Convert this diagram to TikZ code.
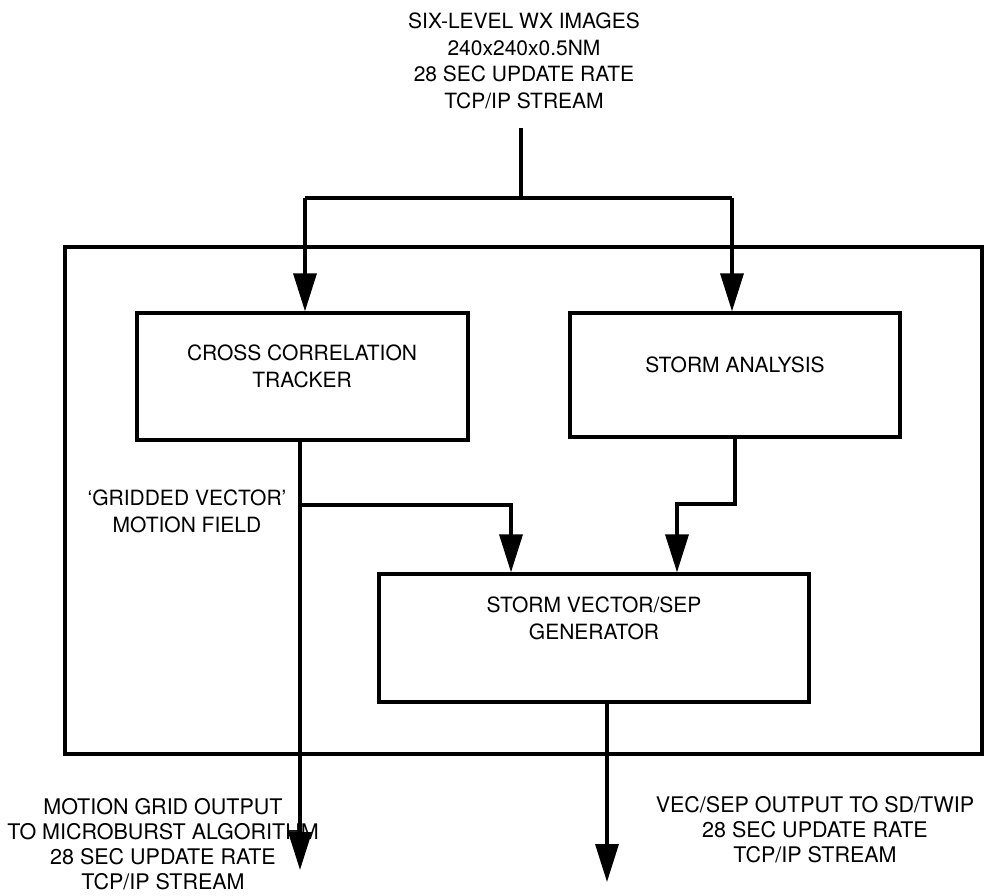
\documentclass[tikz,border=0pt]{standalone}
\usepackage{fontspec}
\setmainfont{TeX Gyre Heros}
\usetikzlibrary{arrows.meta}

\tikzset{
  blockbox/.style={draw=black, line width=3.3pt, rectangle, inner sep=0pt},
  frame/.style={draw=black, line width=3.4pt},
  conn/.style={draw=black, line width=3.4pt, line join=miter},
  flow/.style={conn, -{Triangle[length=38pt,width=23pt]}},
  caption/.style={align=center, inner sep=0pt, font=\fontsize{21}{26.5}\selectfont},
  boxtext/.style={align=center, inner sep=0pt, font=\fontsize{21}{27}\selectfont},
  outtext/.style={align=center, inner sep=0pt, font=\fontsize{21.5}{25}\selectfont},
}

\begin{document}
\begin{tikzpicture}[x=1pt, y=-1pt]
  \useasboundingbox (0,0) rectangle (985,895);

  % input description
  \node[caption] (input) at (524,61)
    {SIX-LEVEL WX IMAGES\\240x240x0.5NM\\28 SEC UPDATE RATE\\TCP/IP STREAM};

  % enclosing system frame
  \node[frame, rectangle, minimum width=917pt, minimum height=507pt, inner sep=0pt]
    (system) at (523.5,500.5) {};

  % processing blocks
  \node[blockbox, minimum width=331pt, minimum height=127pt] (cct) at (302.5,376.5) {};
  \node[boxtext] (cctlabel) at (302,366) {CROSS CORRELATION\\TRACKER};

  \node[blockbox, minimum width=330pt, minimum height=124pt] (sa) at (735,375) {};
  \node[boxtext] (salabel) at (735,365) {STORM ANALYSIS};

  \node[blockbox, minimum width=430pt, minimum height=128pt] (gen) at (594,638) {};
  \node[boxtext] (genlabel) at (594,618.5) {STORM VECTOR/SEP\\GENERATOR};

  % labels
  \node[boxtext] (gvlabel) at (187,511.5) {`GRIDDED VECTOR'\\MOTION FIELD};
  \node[outtext] (mglabel) at (163,844.5)
    {MOTION GRID OUTPUT\\TO MICROBURST ALGORITHM\\28 SEC UPDATE RATE\\TCP/IP STREAM};
  \node[outtext] (veclabel) at (815,830)
    {VEC/SEP OUTPUT TO SD/TWIP\\28 SEC UPDATE RATE\\TCP/IP STREAM};

  % routing points
  \coordinate (feed)   at (521,128);
  \coordinate (fork)   at (521,198);
  \coordinate (forkL)  at (305,198);
  \coordinate (forkR)  at (732,198);
  \coordinate (tap)    at (300,505);
  \coordinate (genL)   at (511,505);
  \coordinate (saturn) at (735,504);
  \coordinate (genR)   at (677,504);
  \coordinate (mgout)  at (300,870);
  \coordinate (vsout)  at (607,882);

  % input fan-out
  \draw[conn] (feed) -- (fork);
  \draw[conn] (forkL) -- (forkR);
  \draw[flow] (forkL) -- (forkL |- cct.north);
  \draw[flow] (forkR) -- (forkR |- sa.north);

  % tracker output and gridded vector tap
  \draw[flow] (mgout |- cct.south) -- (mgout);
  \draw[flow] (tap) -- (genL) -- (genL |- gen.north);

  % storm analysis into generator
  \draw[flow] (sa.south) -- (saturn) -- (genR) -- (genR |- gen.north);

  % generator output
  \draw[flow] (vsout |- gen.south) -- (vsout);
\end{tikzpicture}
\end{document}
